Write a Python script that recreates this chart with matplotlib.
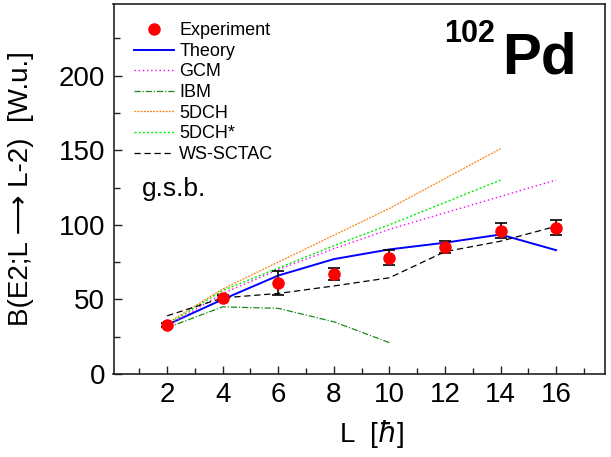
import matplotlib
matplotlib.use("Agg")
import matplotlib.pyplot as plt

plt.rcParams['font.family'] = ['Liberation Sans', 'DejaVu Sans']
plt.rcParams['mathtext.fontset'] = 'dejavusans'

# data
L_exp = [2, 4, 6, 8, 10, 12, 14, 16]
be2_exp = [33, 51, 61, 67, 78, 85, 96, 98]
be2_err = [1.5, 2, 8, 4, 5, 4, 5, 5]

L_th = [2, 4, 6, 8, 10, 12, 14, 16]
be2_theory = [33, 50, 66, 77, 83.5, 88, 93.5, 83]
be2_gcm = [32, 54, 70, 84, 97, 108, 119, 130]
be2_ws = [39, 51, 54, 59, 64.5, 82, 89, 99]

L_ibm = [2, 4, 6, 8, 10]
be2_ibm = [31, 45, 44, 35, 21]

L_5d = [2, 4, 6, 8, 10, 12, 14]
be2_5dch = [34, 57, 75, 93, 111, 131, 151]
be2_5dch_s = [33, 56, 71, 86, 100, 115, 130]

fig = plt.figure(figsize=(6.11, 4.57), dpi=100)
ax = fig.add_axes([113.5 / 611, 83 / 457, (605 - 113.5) / 611, (374 - 4) / 457])

ax.errorbar(L_exp, be2_exp, yerr=be2_err, fmt='none', ecolor='black',
            elinewidth=1.2, capsize=4, capthick=1.2, zorder=4)
ax.plot(L_exp, be2_exp, 'o', color='red', ms=8, label='Experiment', zorder=5)
ax.plot(L_th, be2_theory, color='#0000ff', lw=1.4, label='Theory')
ax.plot(L_th, be2_gcm, color='#ff00ff', lw=1.0, ls=(0, (1, 2)), label='GCM')
ax.plot(L_ibm, be2_ibm, color='#1a8a1a', lw=0.9, ls=(0, (5, 1.5, 1, 1.5)), label='IBM')
ax.plot(L_5d, be2_5dch, color='#ff7f0e', lw=0.9, ls=(0, (1.5, 1)), label='5DCH')
ax.plot(L_5d, be2_5dch_s, color='#00ee00', lw=1.0, ls=(0, (1.5, 1.5)), label='5DCH*')
ax.plot(L_th, be2_ws, color='black', lw=0.9, ls=(0, (5, 3)), label='WS-SCTAC')

ax.set_xlim(0.07, 17.76)
ax.set_ylim(0, 248)
ax.set_xticks(range(2, 17, 2))
ax.set_xticks(range(1, 18, 2), minor=True)
ax.set_yticks(range(0, 201, 50))
ax.set_yticks(range(25, 226, 50), minor=True)
ax.tick_params(which='both', direction='in', labelsize=20, width=1.0,
               colors='#222222', labelcolor='black')
ax.tick_params(which='major', length=6, pad=6)
ax.tick_params(which='minor', length=4)
for s in ax.spines.values():
    s.set_linewidth(1.2)
    s.set_color('#222222')

ax.set_xlabel(r'L  [$\hbar$]', fontsize=20)
ax.xaxis.set_label_coords(0.525, -0.12)
ax.set_ylabel('B(E2;L \u27f6 L-2)  [W.u.]', fontsize=20, labelpad=18)

ax.legend(loc='upper left', bbox_to_anchor=(0.02, 0.98), frameon=False,
          fontsize=13, handlelength=2.2, handletextpad=0.3,
          labelspacing=0.2, borderaxespad=0.2)

ax.text(1.1, 119, 'g.s.b.', fontsize=19)
fig.text(444 / 611, 1 - 42 / 457, '102', fontsize=22, fontweight='bold',
         ha='left', va='baseline')
fig.text(502 / 611, 1 - 74 / 457, 'Pd', fontsize=42, fontweight='bold',
         ha='left', va='baseline')

fig.savefig('out.png', dpi=100)
